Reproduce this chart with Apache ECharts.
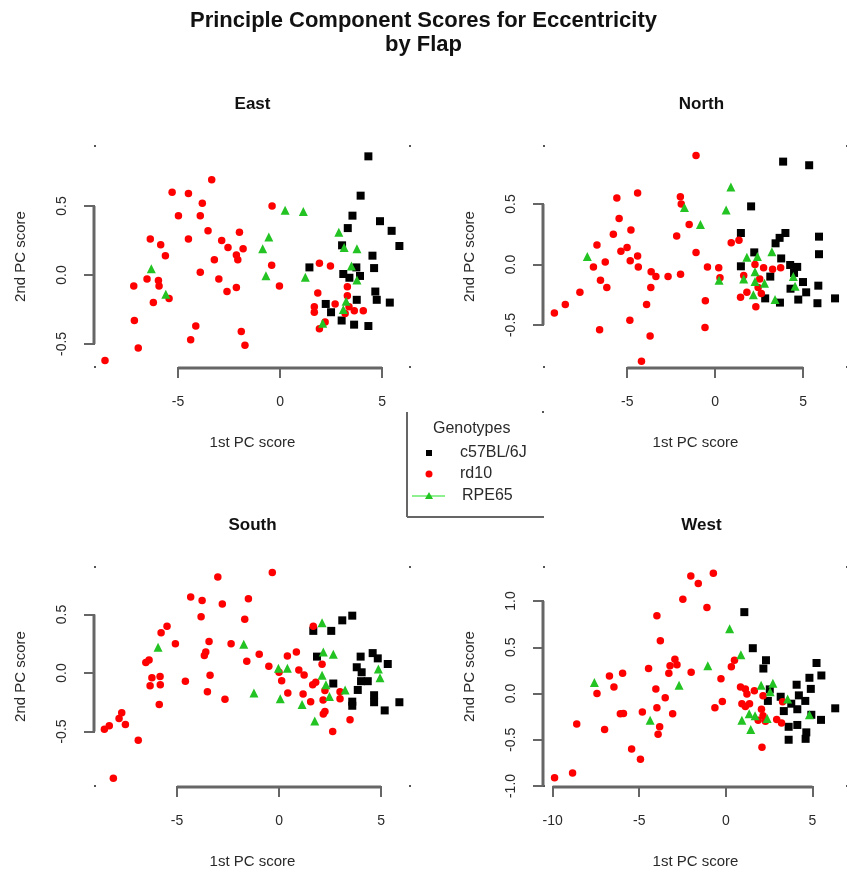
<!DOCTYPE html>
<html>
<head>
<meta charset="utf-8">
<script src="https://cdn.jsdelivr.net/npm/echarts@6/dist/echarts.min.js"></script>
<style>
html,body{margin:0;padding:0;background:#fff;}
#main{width:847px;height:873px;}
</style>
</head>
<body>
<div id="main"></div>
<script>
// ---------- Data ----------
const panelNames = ['East', 'North', 'South', 'West'];
const genotypes = ['c57BL/6J', 'rd10', 'RPE65'];

const xTicksEast = [-5, 0, 5];
const yTicksEast = [-0.5, 0.0, 0.5];
const xTicksNorth = [-5, 0, 5];
const yTicksNorth = [-0.5, 0.0, 0.5];
const xTicksSouth = [-5, 0, 5];
const yTicksSouth = [-0.5, 0.0, 0.5];
const xTicksWest = [-10, -5, 0, 5];
const yTicksWest = [-1.0, -0.5, 0.0, 0.5, 1.0];

const eastBlack = [[4.33,0.86],[3.95,0.575],[3.55,0.43],[4.90,0.39],[3.32,0.34],[5.47,0.32],[5.85,0.21],[3.04,0.215],[4.53,0.14],[1.44,0.055],[3.74,0.055],[4.61,0.05],[3.10,0.007],[3.92,-0.007],[3.40,-0.02],[4.67,-0.12],[3.76,-0.18],[4.74,-0.18],[5.38,-0.20],[2.24,-0.21],[2.50,-0.27],[3.02,-0.33],[3.63,-0.36],[4.33,-0.37]];
const eastRed = [[-3.35,0.69],[-5.29,0.60],[-4.49,0.59],[-3.81,0.52],[-4.98,0.43],[-3.91,0.43],[-0.39,0.50],[-3.53,0.32],[-1.99,0.31],[-6.36,0.26],[-4.49,0.26],[-2.86,0.25],[-5.85,0.22],[-2.55,0.20],[-1.81,0.19],[-2.14,0.145],[-5.62,0.14],[-2.07,0.11],[-3.22,0.11],[-0.41,0.07],[1.93,0.085],[2.47,0.065],[-3.91,0.02],[-6.52,-0.03],[-5.96,-0.04],[-3.0,-0.03],[-5.93,-0.08],[-7.17,-0.08],[-2.14,-0.09],[-0.03,-0.08],[-2.6,-0.12],[1.85,-0.13],[3.3,-0.085],[-5.44,-0.17],[3.3,-0.15],[-6.21,-0.20],[1.68,-0.23],[2.70,-0.21],[3.38,-0.23],[3.64,-0.26],[4.08,-0.26],[1.68,-0.27],[3.19,-0.28],[-7.14,-0.33],[2.21,-0.34],[-4.13,-0.37],[-1.9,-0.41],[1.93,-0.39],[-4.38,-0.47],[-6.95,-0.53],[-1.72,-0.51],[-8.58,-0.62]];
const eastGreen = [[0.25,0.47],[1.14,0.46],[2.88,0.31],[-0.55,0.275],[-0.85,0.19],[3.14,0.20],[3.77,0.19],[-6.31,0.045],[3.5,0.065],[-0.69,-0.005],[1.24,-0.017],[3.77,-0.036],[-5.6,-0.14],[3.24,-0.19],[3.10,-0.25],[2.09,-0.35]];

const northBlack = [[3.86,0.85],[5.34,0.82],[2.04,0.48],[1.46,0.26],[3.99,0.26],[3.66,0.22],[3.43,0.175],[5.9,0.23],[2.22,0.10],[5.9,0.085],[3.75,0.05],[1.46,-0.015],[4.26,-0.004],[4.66,-0.02],[4.48,-0.07],[3.13,-0.10],[4.99,-0.145],[5.86,-0.175],[4.28,-0.20],[5.17,-0.23],[2.84,-0.28],[4.72,-0.29],[3.68,-0.315],[5.81,-0.32],[6.81,-0.28]];
const northRed = [[-1.09,0.90],[-5.59,0.55],[-4.41,0.59],[-1.98,0.56],[-1.93,0.50],[-5.46,0.38],[-4.79,0.285],[-5.79,0.25],[-1.48,0.33],[-2.19,0.235],[-6.72,0.16],[-5.01,0.14],[-5.36,0.11],[0.91,0.18],[1.35,0.20],[-1.09,0.10],[-6.25,0.02],[-4.41,0.07],[-4.83,0.03],[-6.92,-0.02],[-4.37,-0.02],[-0.44,-0.02],[0.2,-0.026],[-3.64,-0.06],[-3.37,-0.10],[-2.68,-0.10],[-1.97,-0.08],[-6.52,-0.13],[0.27,-0.11],[1.62,-0.09],[2.26,0.0],[2.75,-0.026],[3.26,-0.04],[3.72,-0.026],[2.53,-0.12],[2.44,-0.19],[-6.16,-0.19],[-3.66,-0.19],[2.62,-0.24],[1.80,-0.23],[-7.69,-0.23],[1.44,-0.27],[-0.56,-0.30],[-8.52,-0.33],[-3.9,-0.33],[2.31,-0.35],[-9.14,-0.40],[-4.85,-0.46],[-0.58,-0.52],[-6.57,-0.54],[-3.7,-0.59],[-4.19,-0.80]];
const northGreen = [[0.89,0.64],[0.62,0.45],[-1.75,0.47],[-0.84,0.33],[-7.27,0.065],[3.22,0.105],[1.80,0.06],[2.40,0.065],[2.26,-0.06],[2.26,-0.14],[1.62,-0.12],[0.22,-0.13],[2.80,-0.155],[4.54,-0.18],[2.17,-0.25],[3.40,-0.29],[4.44,-0.10]];

const southBlack = [[3.59,0.49],[3.10,0.45],[1.68,0.36],[2.56,0.36],[1.86,0.14],[4.0,0.14],[4.59,0.17],[4.84,0.125],[5.33,0.077],[3.81,0.049],[4.05,0.006],[4.02,-0.07],[4.35,-0.07],[2.66,-0.09],[3.86,-0.145],[4.66,-0.19],[3.59,-0.245],[4.66,-0.25],[5.90,-0.25],[5.18,-0.32],[3.59,-0.28]];
const southRed = [[-3.0,0.82],[-0.33,0.86],[-4.33,0.65],[-3.77,0.62],[-1.5,0.635],[-2.78,0.59],[-3.82,0.48],[-1.68,0.46],[-5.49,0.40],[-5.78,0.345],[-5.08,0.25],[-3.43,0.27],[-2.35,0.25],[-3.59,0.18],[-3.66,0.15],[-6.37,0.11],[-6.53,0.09],[-1.58,0.10],[-0.97,0.16],[0.41,0.145],[0.85,0.18],[-0.5,0.057],[0.0,0.006],[0.97,0.026],[2.11,0.074],[-6.23,-0.04],[-5.83,-0.03],[-3.38,-0.02],[-4.59,-0.07],[1.23,-0.017],[0.13,-0.066],[-6.32,-0.11],[-5.82,-0.10],[1.80,-0.08],[1.65,-0.10],[-3.51,-0.16],[-2.65,-0.225],[0.43,-0.17],[1.18,-0.18],[2.25,-0.15],[2.99,-0.16],[2.99,-0.22],[2.16,-0.23],[1.55,-0.245],[-5.87,-0.27],[2.25,-0.33],[2.17,-0.35],[3.48,-0.40],[-7.71,-0.34],[-7.84,-0.39],[-7.53,-0.44],[-8.32,-0.45],[-8.56,-0.48],[-6.9,-0.575],[2.63,-0.50],[-8.12,-0.90],[1.68,0.40]];
const southGreen = [[2.11,0.43],[-5.93,0.22],[-1.73,0.245],[2.17,0.18],[2.66,0.16],[-0.03,0.04],[0.41,0.04],[2.11,-0.02],[4.87,0.034],[4.95,-0.04],[2.30,-0.10],[-1.23,-0.17],[0.06,-0.22],[2.47,-0.20],[3.24,-0.145],[1.13,-0.27],[1.75,-0.41]];

const westBlack = [[1.07,0.88],[1.56,0.49],[2.32,0.36],[2.17,0.27],[5.24,0.33],[5.52,0.195],[4.83,0.17],[4.09,0.095],[4.91,0.05],[2.54,0.045],[3.17,-0.035],[4.22,-0.02],[4.59,-0.08],[2.43,-0.08],[3.78,-0.11],[3.35,-0.19],[4.13,-0.17],[4.94,-0.23],[5.5,-0.285],[3.63,-0.36],[4.13,-0.34],[4.65,-0.42],[3.63,-0.50],[4.61,-0.49],[6.32,-0.16]];
const westRed = [[-2.02,1.27],[-0.72,1.30],[-1.59,1.19],[-2.48,1.02],[-1.09,0.93],[-3.98,0.84],[-3.78,0.57],[-2.94,0.37],[-2.82,0.31],[-3.22,0.30],[-4.46,0.27],[-2.0,0.23],[-3.29,0.22],[0.5,0.36],[0.32,0.29],[-6.72,0.19],[-5.96,0.22],[-0.28,0.16],[-6.46,0.07],[-4.04,0.05],[-7.44,0.0],[0.85,0.07],[1.13,0.05],[1.65,0.03],[1.22,-0.006],[-3.5,-0.046],[-0.2,-0.085],[2.15,-0.024],[0.93,-0.11],[1.37,-0.11],[1.13,-0.14],[-3.98,-0.155],[-0.63,-0.155],[2.06,-0.17],[3.28,-0.09],[-4.82,-0.20],[-6.09,-0.22],[-5.91,-0.215],[-3.07,-0.22],[2.15,-0.24],[1.87,-0.29],[2.29,-0.30],[2.94,-0.28],[3.22,-0.32],[-8.61,-0.33],[-3.82,-0.36],[-7.0,-0.39],[-3.91,-0.44],[-5.44,-0.60],[-4.93,-0.71],[2.09,-0.58],[-8.85,-0.86],[-9.89,-0.91]];
const westGreen = [[0.22,0.70],[0.87,0.42],[-1.04,0.30],[-7.59,0.12],[-2.70,0.09],[2.04,0.09],[2.72,0.11],[2.56,0.02],[3.57,-0.06],[1.35,-0.22],[1.69,-0.24],[2.39,-0.27],[0.93,-0.29],[-4.37,-0.29],[1.44,-0.39],[4.83,-0.23]];

// ---------- Layout / style ----------
const FONT = 'Liberation Sans, Arial, sans-serif';
const AXIS_GREY = '#666666';
const TEXT_COL = '#2a2a2a';
const COL_BLACK = '#000000', COL_RED = '#ff0000', COL_GREEN = '#22c322';

const panels = [
  {name: panelNames[0], grid: {left: 95, top: 146, width: 315, height: 221}, xMin: -9.07, xMax: 6.37, yMin: -0.667, yMax: 0.935, xTicks: xTicksEast, yTicks: yTicksEast, data: [eastBlack, eastRed, eastGreen]},
  {name: panelNames[1], grid: {left: 544, top: 146, width: 315, height: 221}, xMin: -9.73, xMax: 7.49, yMin: -0.847, yMax: 0.979, xTicks: xTicksNorth, yTicks: yTicksNorth, data: [northBlack, northRed, northGreen]},
  {name: panelNames[2], grid: {left: 95, top: 567, width: 315, height: 219}, xMin: -9.02, xMax: 6.42, yMin: -0.966, yMax: 0.906, xTicks: xTicksSouth, yTicks: yTicksSouth, data: [southBlack, southRed, southGreen]},
  {name: panelNames[3], grid: {left: 544, top: 567, width: 315, height: 219}, xMin: -10.5, xMax: 7.0, yMin: -1.0, yMax: 1.368, xTicks: xTicksWest, yTicks: yTicksWest, data: [westBlack, westRed, westGreen]}
];

const symbols = [
  {symbol: 'rect', size: 8, color: COL_BLACK},
  {symbol: 'circle', size: 7.5, color: COL_RED},
  {symbol: 'triangle', size: 9, color: COL_GREEN}
];

const option = {
  backgroundColor: '#ffffff',
  animation: false,
  title: [
    {text: 'Principle Component Scores for Eccentricity\nby Flap', left: 'center', top: 9, padding: 0,
     textStyle: {fontFamily: FONT, fontSize: 22, fontWeight: 'bold', color: '#111', lineHeight: 24}}
  ].concat(panels.map(p => ({
    text: p.name, left: p.grid.left + p.grid.width / 2, top: p.grid.top - 50, textAlign: 'center', padding: 0,
    textStyle: {fontFamily: FONT, fontSize: 17, fontWeight: 'bold', color: '#111'}
  }))),
  grid: panels.map(p => Object.assign({containLabel: false}, p.grid)),
  xAxis: panels.map((p, i) => ({
    type: 'value', gridIndex: i, min: p.xMin, max: p.xMax,
    axisLine: {show: false, onZero: false}, splitLine: {show: false},
    axisTick: {show: true, customValues: p.xTicks, length: 11, lineStyle: {color: AXIS_GREY, width: 2}},
    axisLabel: {customValues: p.xTicks, margin: 28, fontFamily: FONT, fontSize: 14, color: TEXT_COL,
      formatter: v => String(Math.round(v))},
    name: '1st PC score', nameLocation: 'middle', nameGap: 68,
    nameTextStyle: {fontFamily: FONT, fontSize: 15, color: TEXT_COL}
  })),
  yAxis: panels.map((p, i) => ({
    type: 'value', gridIndex: i, min: p.yMin, max: p.yMax,
    axisLine: {show: false, onZero: false}, splitLine: {show: false},
    axisTick: {show: true, customValues: p.yTicks, length: 11, lineStyle: {color: AXIS_GREY, width: 2}},
    axisLabel: {customValues: p.yTicks, rotate: 90, margin: 26, fontFamily: FONT, fontSize: 14, color: TEXT_COL,
      formatter: v => v.toFixed(1)},
    name: '2nd PC score', nameLocation: 'middle', nameGap: 67,
    nameTextStyle: {fontFamily: FONT, fontSize: 15, color: TEXT_COL}
  })),
  series: []
};

panels.forEach((p, i) => {
  p.data.forEach((arr, k) => {
    option.series.push({
      type: 'scatter', name: genotypes[k], xAxisIndex: i, yAxisIndex: i,
      data: arr, symbol: symbols[k].symbol, symbolSize: symbols[k].size,
      itemStyle: {color: symbols[k].color, opacity: 1},
      silent: true, z: 2 + k
    });
  });
});

const chart = echarts.init(document.getElementById('main'), null, {renderer: 'canvas'});
chart.setOption(option);

// R-style axis lines spanning first..last tick, plus corner dots
const graphics = [];
panels.forEach((p, i) => {
  const f = {gridIndex: i};
  const xa = chart.convertToPixel(f, [p.xTicks[0], p.yMin]);
  const xb = chart.convertToPixel(f, [p.xTicks[p.xTicks.length - 1], p.yMin]);
  const ya = chart.convertToPixel(f, [p.xMin, p.yTicks[0]]);
  const yb = chart.convertToPixel(f, [p.xMin, p.yTicks[p.yTicks.length - 1]]);
  graphics.push({type: 'line', silent: true, z: 10,
    shape: {x1: xa[0], y1: xa[1] + 1, x2: xb[0], y2: xb[1] + 1},
    style: {stroke: AXIS_GREY, lineWidth: 3}});
  graphics.push({type: 'line', silent: true, z: 10,
    shape: {x1: ya[0] - 1, y1: ya[1], x2: yb[0] - 1, y2: yb[1]},
    style: {stroke: AXIS_GREY, lineWidth: 3}});
  const corners = [[p.xMin, p.yMin], [p.xMin, p.yMax], [p.xMax, p.yMin], [p.xMax, p.yMax]];
  corners.forEach(c => {
    const pt = chart.convertToPixel(f, c);
    graphics.push({type: 'rect', silent: true, z: 9,
      shape: {x: pt[0] - 1, y: pt[1] - 1, width: 2, height: 2}, style: {fill: '#555'}});
  });
});

// Legend (R style)
graphics.push({type: 'line', silent: true, shape: {x1: 407, y1: 412, x2: 407, y2: 517}, style: {stroke: AXIS_GREY, lineWidth: 2}});
graphics.push({type: 'line', silent: true, shape: {x1: 407, y1: 517, x2: 544, y2: 517}, style: {stroke: AXIS_GREY, lineWidth: 2}});
graphics.push({type: 'rect', silent: true, shape: {x: 542, y: 411, width: 2, height: 2}, style: {fill: '#555'}});
graphics.push({type: 'text', silent: true, style: {text: 'Genotypes', x: 433, y: 429, verticalAlign: 'middle', fontFamily: FONT, fontSize: 16, fill: TEXT_COL}});
graphics.push({type: 'rect', silent: true, shape: {x: 426, y: 450, width: 6, height: 6}, style: {fill: COL_BLACK}});
graphics.push({type: 'text', silent: true, style: {text: genotypes[0], x: 460, y: 453, verticalAlign: 'middle', fontFamily: FONT, fontSize: 16, fill: TEXT_COL}});
graphics.push({type: 'circle', silent: true, shape: {cx: 429, cy: 474, r: 3.5}, style: {fill: COL_RED}});
graphics.push({type: 'text', silent: true, style: {text: genotypes[1], x: 460, y: 474, verticalAlign: 'middle', fontFamily: FONT, fontSize: 16, fill: TEXT_COL}});
graphics.push({type: 'line', silent: true, shape: {x1: 412, y1: 496, x2: 445, y2: 496}, style: {stroke: '#8ef08e', lineWidth: 2}});
graphics.push({type: 'polygon', silent: true, shape: {points: [[429, 492], [425, 499], [433, 499]]}, style: {fill: COL_GREEN}});
graphics.push({type: 'text', silent: true, style: {text: genotypes[2], x: 462, y: 496, verticalAlign: 'middle', fontFamily: FONT, fontSize: 16, fill: TEXT_COL}});

chart.setOption({graphic: graphics});
</script>
</body>
</html>
